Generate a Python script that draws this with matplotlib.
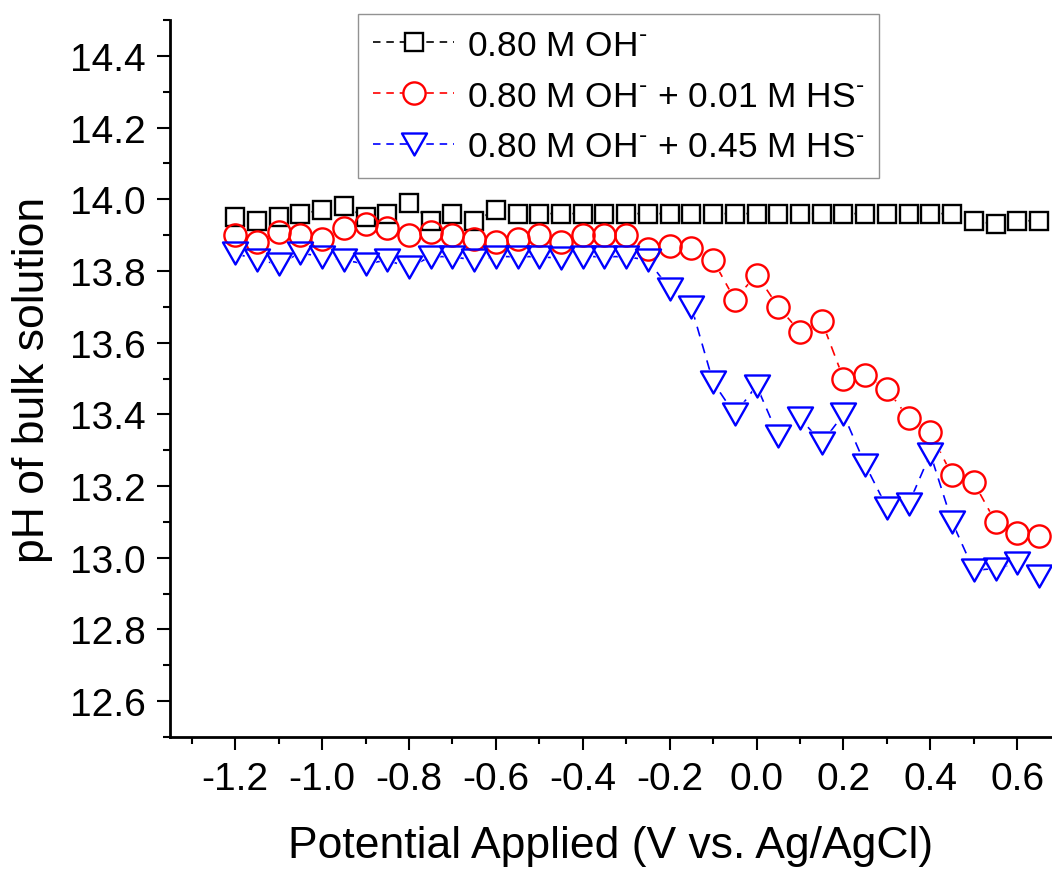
import matplotlib
matplotlib.use("Agg")
import matplotlib.pyplot as plt
from matplotlib.lines import Line2D
from matplotlib.path import Path
from matplotlib.ticker import MultipleLocator, FormatStrFormatter

plt.rcParams['font.family'] = ['Liberation Sans', 'DejaVu Sans']
plt.rcParams['mathtext.fontset'] = 'custom'
plt.rcParams['mathtext.rm'] = 'Liberation Sans'
plt.rcParams['mathtext.it'] = 'Liberation Sans:italic'
plt.rcParams['mathtext.bf'] = 'Liberation Sans:bold'

potential = [-1.20, -1.15, -1.10, -1.05, -1.00, -0.95, -0.90, -0.85, -0.80, -0.75,
             -0.70, -0.65, -0.60, -0.55, -0.50, -0.45, -0.40, -0.35, -0.30, -0.25,
             -0.20, -0.15, -0.10, -0.05, 0.00, 0.05, 0.10, 0.15, 0.20, 0.25,
             0.30, 0.35, 0.40, 0.45, 0.50, 0.55, 0.60, 0.65]

ph_oh = [13.95, 13.94, 13.95, 13.96, 13.97, 13.98, 13.95, 13.96, 13.99, 13.94,
         13.96, 13.94, 13.97, 13.96, 13.96, 13.96, 13.96, 13.96, 13.96, 13.96,
         13.96, 13.96, 13.96, 13.96, 13.96, 13.96, 13.96, 13.96, 13.96, 13.96,
         13.96, 13.96, 13.96, 13.96, 13.94, 13.93, 13.94, 13.94]

ph_hs001 = [13.90, 13.88, 13.91, 13.90, 13.89, 13.92, 13.93, 13.92, 13.90, 13.91,
            13.90, 13.89, 13.88, 13.89, 13.90, 13.88, 13.90, 13.90, 13.90, 13.86,
            13.87, 13.865, 13.83, 13.72, 13.79, 13.70, 13.63, 13.66, 13.50, 13.51,
            13.47, 13.39, 13.35, 13.23, 13.21, 13.10, 13.07, 13.06]

ph_hs045 = [13.85, 13.83, 13.82, 13.85, 13.84, 13.83, 13.82, 13.83, 13.81, 13.84,
            13.84, 13.83, 13.84, 13.84, 13.84, 13.835, 13.84, 13.84, 13.84, 13.83,
            13.75, 13.70, 13.49, 13.40, 13.48, 13.34, 13.39, 13.32, 13.40, 13.26,
            13.14, 13.15, 13.29, 13.10, 12.965, 12.97, 12.985, 12.95]

labels = [r'0.80 M OH$^{\text{-}}$',
          r'0.80 M OH$^{\text{-}}$ + 0.01 M HS$^{\text{-}}$',
          r'0.80 M OH$^{\text{-}}$ + 0.45 M HS$^{\text{-}}$']
colors = ['#000000', '#ff0000', '#0000ff']

tri = Path([(-1.0, 0.88), (1.0, 0.88), (0.0, -0.88), (-1.0, 0.88)],
           [Path.MOVETO, Path.LINETO, Path.LINETO, Path.CLOSEPOLY])
markers = ['s', 'o', tri]
msizes = [13.5, 16, 18]

fig = plt.figure(figsize=(10.52, 8.70), dpi=100)
ax = fig.add_axes([170/1052, 1-738/870, (1052-170)/1052, (738-21)/870])

series = [ph_oh, ph_hs001, ph_hs045]
dash = (6, 4.5)
# lines
for y, c in zip(series, colors):
    ax.plot(potential, y, color=c, lw=1.2, ls=(0, dash), zorder=1)
# white masks so lines stop at symbols
for y, c, m, ms in zip(series, colors, markers, msizes):
    ax.plot(potential, y, ls='none', marker=m, ms=ms, mfc='white', mec='white',
            mew=2.5, zorder=2, clip_on=False)
# hollow symbol outlines
for y, c, m, ms in zip(series, colors, markers, msizes):
    ax.plot(potential, y, ls='none', marker=m, ms=ms, mfc='none', mec=c,
            mew=1.7, zorder=3, clip_on=False)

ax.set_xlim(-1.35, 0.68)
ax.set_ylim(12.5, 14.5)
ax.xaxis.set_minor_locator(MultipleLocator(0.1))
ax.yaxis.set_minor_locator(MultipleLocator(0.1))
ax.set_yticks([12.6, 12.8, 13.0, 13.2, 13.4, 13.6, 13.8, 14.0, 14.2, 14.4])
ax.set_xticks([-1.2, -1.0, -0.8, -0.6, -0.4, -0.2, 0.0, 0.2, 0.4, 0.6])
ax.xaxis.set_major_formatter(FormatStrFormatter('%.1f'))
ax.yaxis.set_major_formatter(FormatStrFormatter('%.1f'))

for s in ['top', 'right']:
    ax.spines[s].set_visible(False)
for s in ['left', 'bottom']:
    ax.spines[s].set_linewidth(2)

ax.tick_params(which='major', direction='out', length=9.5, width=1.5,
               labelsize=28, pad=8)
ax.tick_params(which='minor', direction='out', length=5, width=1.5)

ax.set_xlabel('Potential Applied (V vs. Ag/AgCl)', fontsize=32, labelpad=20)
ax.set_ylabel('pH of bulk solution', fontsize=32, labelpad=12)

handles = [Line2D([], [], color=c, lw=1.2, ls=(0, (4.5, 3.5)), marker=m, ms=ms,
                  mfc='white', mec=c, mew=1.7)
           for c, m, ms in zip(colors, markers, msizes)]
leg = fig.legend(handles, labels, loc='upper left',
                 bbox_to_anchor=(358/1052, 1-15/870), bbox_transform=fig.transFigure,
                 fontsize=25.5, frameon=True, fancybox=False, borderpad=0.42,
                 handlelength=2.3, handletextpad=0.35, labelspacing=0.5,
                 borderaxespad=0)
leg.get_frame().set_edgecolor('#777777')
leg.get_frame().set_linewidth(1.0)

fig.savefig('out.png', dpi=100)
